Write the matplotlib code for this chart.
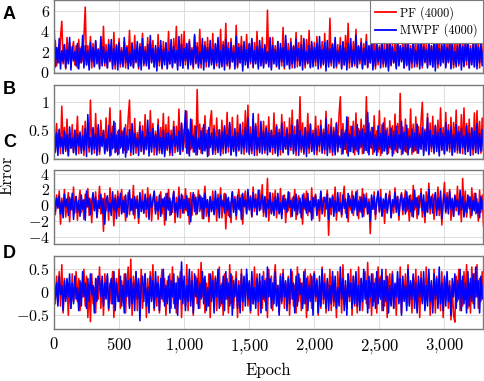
import numpy as np
import matplotlib.pyplot as plt
from matplotlib.ticker import FuncFormatter, FixedLocator

# error per epoch, every 10 epochs (0 .. 3300)
epoch_step = 10

a_pf = [1.2, 3.1, 0.6, 2.4, 0.9, 3.4, 5.0, 0.8, 2.7, 0.3,
        3.4, 1.0, 2.9, 0.5, 2.2, 3.0, 0.7, 2.6, 0.4, 3.2,
        0.9, 2.5, 1.1, 3.5, 6.4, 0.7, 2.6, 0.9, 3.5, 0.4,
        2.8, 0.6, 3.0, 1.2, 2.3, 0.5, 3.3, 0.8, 4.5, 0.6,
        2.7, 0.4, 3.2, 1.0, 2.5, 0.6, 3.9, 0.3, 2.7, 1.1,
        3.3, 0.5, 2.4, 0.8, 3.0, 0.4, 2.6, 1.0, 4.1, 0.7,
        2.9, 0.5, 3.6, 0.9, 2.4, 0.3, 2.8, 1.2, 3.8, 0.6,
        2.5, 0.8, 3.4, 0.4, 2.9, 1.0, 3.1, 0.5, 2.3, 0.9,
        3.7, 0.6, 2.6, 0.3, 3.0, 1.1, 2.8, 0.5, 4.0, 0.8,
        2.7, 0.4, 3.3, 0.9, 4.5, 0.6, 2.5, 1.0, 3.7, 0.4,
        4.0, 0.7, 2.8, 0.5, 3.2, 0.9, 2.4, 0.3, 3.5, 0.8,
        2.9, 0.6, 4.2, 0.4, 2.6, 1.1, 3.0, 0.5, 3.4, 0.7,
        2.5, 0.9, 3.8, 0.4, 2.7, 0.6, 3.1, 1.0, 4.2, 0.5,
        3.0, 0.8, 4.8, 0.6, 2.9, 0.3, 3.3, 1.0, 2.6, 0.7,
        4.6, 0.4, 2.8, 0.9, 3.5, 0.5, 2.4, 1.1, 3.7, 0.6,
        2.7, 0.8, 3.2, 0.4, 2.9, 1.0, 4.0, 0.5, 2.6, 0.9,
        3.4, 0.6, 2.5, 0.8, 6.1, 0.7, 2.9, 0.4, 3.4, 1.0,
        2.6, 0.5, 3.0, 0.9, 2.4, 0.6, 4.4, 0.3, 3.1, 1.1,
        2.8, 0.6, 3.3, 0.4, 2.6, 0.9, 3.9, 0.5, 2.9, 0.7,
        3.6, 1.0, 2.5, 0.4, 3.2, 0.8, 4.1, 0.5, 2.7, 0.9,
        2.9, 0.6, 3.5, 1.0, 2.6, 0.4, 3.0, 0.7, 3.8, 0.5,
        2.4, 0.9, 5.3, 0.6, 2.8, 1.1, 3.1, 0.4, 2.7, 0.8,
        3.4, 0.5, 2.9, 0.7, 3.6, 1.0, 4.8, 0.4, 2.5, 0.9,
        3.0, 0.6, 4.2, 0.5, 2.6, 0.8, 3.3, 0.4, 2.8, 1.1,
        3.7, 0.4, 2.5, 0.9, 2.9, 0.6, 4.0, 0.3, 3.2, 0.7,
        2.6, 1.0, 3.5, 0.5, 2.8, 0.8, 3.1, 0.4, 4.1, 0.6,
        2.7, 0.9, 3.0, 0.5, 3.6, 0.7, 2.4, 1.1, 3.3, 0.4,
        2.9, 0.6, 3.9, 0.8, 2.6, 0.4, 3.2, 1.0, 2.8, 0.5,
        3.5, 0.7, 2.5, 0.4, 3.8, 0.9, 2.7, 0.6, 3.1, 1.0,
        2.6, 0.5, 3.4, 0.8, 2.9, 0.4, 4.0, 0.7, 2.5, 1.1,
        3.2, 0.6, 2.8, 0.9, 3.7, 0.5, 2.6, 0.4, 3.0, 0.8,
        3.5, 0.6, 2.7, 1.0, 3.3, 0.5, 2.9, 0.7, 3.8, 0.4,
        2.6, 0.9, 3.1, 0.5, 2.8, 0.7, 3.4, 0.4, 2.7, 1.0,
        3.0]
a_mwpf = [4.8, 0.5, 2.4, 0.9, 3.3, 0.3, 2.1, 1.0, 2.7, 0.4,
          2.2, 0.8, 3.4, 0.2, 2.5, 1.1, 2.0, 0.6, 2.8, 0.3,
          2.3, 0.9, 3.6, 0.4, 2.6, 0.7, 2.1, 0.2, 2.9, 1.0,
          2.4, 0.5, 3.1, 0.8, 2.2, 0.3, 3.5, 0.6, 2.5, 0.9,
          2.0, 0.4, 2.7, 1.1, 3.2, 0.3, 2.3, 0.7, 2.6, 0.2,
          2.9, 0.8, 2.1, 0.5, 3.4, 0.9, 2.4, 0.3, 2.0, 0.6,
          2.8, 0.4, 2.2, 1.0, 3.0, 0.5, 2.5, 0.2, 3.3, 0.8,
          2.1, 0.6, 2.7, 0.3, 3.6, 0.9, 2.3, 0.5, 2.6, 0.1,
          2.4, 1.0, 3.1, 0.4, 2.2, 0.7, 2.9, 0.3, 2.0, 0.8,
          3.2, 0.5, 2.5, 0.9, 2.1, 0.2, 3.5, 0.6, 2.7, 0.4,
          2.3, 1.1, 2.8, 0.3, 3.0, 0.7, 2.2, 0.5, 3.7, 0.9,
          2.5, 0.4, 2.0, 0.8, 3.3, 0.2, 2.6, 1.0, 2.4, 0.5,
          3.1, 0.7, 2.2, 0.3, 2.8, 0.9, 3.4, 0.4, 2.1, 0.6,
          2.7, 0.2, 3.2, 0.8, 2.3, 0.5, 2.9, 1.0, 2.0, 0.3,
          3.5, 0.6, 2.4, 0.9, 2.6, 0.1, 3.0, 0.7, 2.2, 0.4,
          2.8, 1.0, 3.3, 0.5, 2.1, 0.8, 2.5, 0.3, 3.1, 0.6,
          2.3, 0.4, 2.7, 0.9, 2.0, 0.5, 3.4, 0.2, 2.6, 0.8,
          2.2, 0.6, 3.0, 0.3, 2.8, 1.0, 2.4, 0.5, 3.6, 0.7,
          2.1, 0.3, 2.9, 0.8, 2.5, 0.4, 3.2, 1.1, 2.3, 0.6,
          2.7, 0.2, 3.3, 0.7, 2.0, 0.9, 2.6, 0.4, 3.0, 0.5,
          2.4, 1.0, 2.8, 0.3, 3.5, 0.6, 2.2, 0.8, 2.9, 0.1,
          3.1, 0.5, 2.3, 0.9, 2.7, 0.4, 3.4, 0.6, 2.1, 1.0,
          2.6, 0.3, 3.0, 0.7, 2.4, 0.2, 2.8, 0.9, 3.3, 0.5,
          2.2, 0.8, 3.6, 0.4, 2.5, 1.1, 2.9, 0.3, 2.3, 0.7,
          3.0, 0.5, 2.6, 0.9, 3.2, 0.2, 2.1, 0.6, 2.7, 1.0,
          2.4, 0.4, 3.4, 0.8, 2.2, 0.5, 2.8, 0.1, 3.1, 0.7,
          2.5, 0.9, 2.0, 0.3, 3.3, 0.6, 2.6, 1.0, 2.4, 0.4,
          3.0, 0.7, 2.7, 0.2, 2.3, 0.9, 3.5, 0.5, 2.1, 0.8,
          2.8, 0.3, 3.2, 0.6, 2.5, 1.0, 2.2, 0.4, 3.0, 0.7,
          2.6, 0.5, 2.9, 0.1, 3.4, 0.8, 2.3, 0.6, 2.7, 0.9,
          3.1, 0.4, 2.4, 1.0, 2.8, 0.3, 3.3, 0.7, 2.0, 0.5,
          2.6, 0.8, 3.0, 0.2, 2.5, 0.6, 2.9, 1.1, 3.2, 0.4,
          2.3, 0.7, 2.7, 0.5, 3.5, 0.3, 2.4, 0.9, 2.8, 0.6,
          2.2]

b_pf = [0.35, 0.10, 0.62, 0.15, 0.48, 0.08, 0.93, 0.20, 0.55, 0.12,
        0.70, 0.06, 0.45, 0.18, 0.60, 0.10, 0.50, 0.25, 0.75, 0.08,
        0.42, 0.14, 0.58, 0.05, 0.66, 0.22, 0.47, 0.11, 1.04, 0.16,
        0.52, 0.09, 0.80, 0.13, 0.54, 0.07, 0.68, 0.24, 0.50, 0.10,
        0.72, 0.15, 0.44, 0.90, 0.06, 0.57, 0.19, 0.63, 0.12, 0.48,
        0.08, 0.85, 0.21, 0.49, 0.14, 0.60, 0.10, 0.72, 1.04, 0.05,
        0.53, 0.17, 0.71, 0.09, 0.46, 0.23, 0.65, 0.12, 0.58, 0.07,
        0.78, 0.15, 0.52, 0.11, 0.85, 0.20, 0.62, 0.06, 0.48, 0.13,
        0.70, 0.09, 0.55, 0.18, 0.80, 0.08, 0.60, 0.14, 0.74, 0.05,
        0.50, 0.22, 0.66, 0.10, 0.57, 0.16, 0.88, 0.07, 0.63, 0.12,
        0.52, 0.19, 0.84, 0.08, 0.47, 0.15, 0.69, 0.11, 0.58, 0.06,
        1.23, 0.21, 0.61, 0.09, 0.54, 0.14, 0.76, 0.18, 0.50, 0.05,
        0.65, 0.85, 0.10, 0.59, 0.07, 0.72, 0.16, 0.50, 0.12, 0.68,
        0.08, 0.55, 0.20, 0.82, 0.11, 0.60, 0.06, 0.73, 0.15, 0.48,
        0.09, 0.77, 0.13, 0.52, 0.19, 0.64, 0.07, 0.85, 0.14, 0.95,
        0.10, 0.56, 0.08, 0.70, 0.17, 0.62, 0.05, 0.79, 0.12, 0.53,
        0.21, 0.66, 0.09, 0.58, 0.15, 0.74, 0.11, 0.49, 0.07, 0.81,
        0.13, 0.60, 0.18, 0.52, 0.06, 0.78, 0.10, 0.65, 0.16, 0.55,
        0.08, 0.72, 0.14, 0.86, 0.12, 0.57, 0.05, 0.69, 0.20, 1.10,
        0.11, 0.63, 0.07, 0.54, 0.17, 0.80, 0.09, 0.61, 0.13, 0.50,
        0.19, 0.75, 0.06, 0.58, 0.12, 0.68, 0.15, 0.52, 0.08, 0.84,
        0.14, 0.60, 0.10, 0.71, 0.05, 0.55, 0.18, 0.64, 0.11, 0.77,
        1.10, 0.07, 0.62, 0.16, 0.50, 0.09, 0.73, 0.13, 0.57, 0.20,
        0.66, 0.06, 0.81, 0.12, 0.53, 0.17, 0.70, 0.08, 0.59, 0.14,
        1.10, 0.10, 0.63, 0.19, 0.55, 0.07, 0.76, 0.15, 0.49, 0.11,
        0.85, 0.05, 0.60, 0.13, 0.72, 0.18, 0.54, 0.09, 0.67, 0.16,
        0.58, 0.08, 0.79, 0.12, 0.62, 0.20, 1.16, 0.06, 0.56, 0.14,
        0.70, 0.10, 0.53, 0.17, 0.88, 0.07, 0.61, 0.13, 0.74, 0.09,
        0.57, 0.19, 0.66, 1.00, 0.11, 0.52, 0.15, 0.80, 0.06, 0.63,
        0.12, 0.75, 0.08, 0.59, 0.18, 0.68, 0.10, 0.90, 0.14, 0.55,
        0.07, 0.82, 0.16, 0.60, 0.11, 0.73, 0.05, 0.64, 0.20, 0.86,
        0.09, 0.57, 0.13, 0.78, 0.08, 0.90, 0.15, 0.62, 0.12, 0.70,
        0.17, 0.54, 0.06, 0.81, 0.10, 0.85, 0.14, 0.66, 0.09, 0.72,
        0.15]
b_mwpf = [0.70, 0.12, 0.45, 0.05, 0.52, 0.20, 0.38, 0.08, 0.48, 0.15,
          0.42, 0.04, 0.56, 0.18, 0.36, 0.10, 0.50, 0.06, 0.44, 0.22,
          0.47, 0.09, 0.40, 0.14, 0.53, 0.03, 0.78, 0.19, 0.37, 0.07,
          0.55, 0.16, 0.43, 0.05, 0.60, 0.12, 0.39, 0.21, 0.49, 0.08,
          0.35, 0.13, 0.58, 0.04, 0.45, 0.17, 0.66, 0.10, 0.41, 0.06,
          0.51, 0.18, 0.47, 0.09, 0.54, 0.02, 0.40, 0.15, 0.51, 0.11,
          0.62, 0.07, 0.44, 0.20, 0.36, 0.05, 0.57, 0.13, 0.48, 0.09,
          0.38, 0.16, 0.68, 0.04, 0.46, 0.11, 0.53, 0.19, 0.42, 0.06,
          0.59, 0.14, 0.37, 0.08, 0.50, 0.03, 0.44, 0.17, 0.45, 0.10,
          0.41, 0.05, 0.56, 0.21, 0.39, 0.12, 0.48, 0.07, 0.62, 0.15,
          0.44, 0.85, 0.09, 0.52, 0.04, 0.70, 0.18, 0.40, 0.11, 0.57,
          0.06, 0.36, 0.16, 0.49, 0.08, 0.60, 0.13, 0.43, 0.03, 0.55,
          0.19, 0.45, 0.07, 0.52, 0.14, 0.38, 0.10, 0.51, 0.05, 0.47,
          0.17, 0.58, 0.09, 0.42, 0.20, 0.64, 0.06, 0.39, 0.12, 0.53,
          0.04, 0.46, 0.15, 0.61, 0.08, 0.40, 0.18, 0.55, 0.11, 0.72,
          0.07, 0.43, 0.13, 0.80, 0.05, 0.58, 0.16, 0.37, 0.10, 0.66,
          0.08, 0.48, 0.14, 0.54, 0.06, 0.45, 0.12, 0.50, 0.19, 0.41,
          0.09, 0.57, 0.04, 0.46, 0.15, 0.63, 0.11, 0.38, 0.17, 0.52,
          0.06, 0.44, 0.20, 0.59, 0.08, 0.42, 0.13, 0.68, 0.05, 0.49,
          0.16, 0.40, 0.10, 0.55, 0.03, 0.47, 0.18, 0.61, 0.12, 0.44,
          0.07, 0.53, 0.14, 0.39, 0.21, 0.58, 0.09, 0.46, 0.15, 0.70,
          0.05, 0.42, 0.17, 0.56, 0.11, 0.48, 0.06, 0.62, 0.13, 0.40,
          0.19, 0.51, 0.08, 0.45, 0.16, 0.74, 0.04, 0.43, 0.12, 0.57,
          0.10, 0.38, 0.15, 0.60, 0.07, 0.49, 0.20, 0.52, 0.09, 0.45,
          0.14, 0.82, 0.06, 0.47, 0.18, 0.55, 0.11, 0.41, 0.05, 0.58,
          0.16, 0.44, 0.09, 0.63, 0.13, 0.50, 0.07, 0.39, 0.19, 0.54,
          0.04, 0.48, 0.15, 0.57, 0.10, 0.42, 0.17, 0.66, 0.08, 0.46,
          0.12, 0.59, 0.06, 0.40, 0.20, 0.52, 0.11, 0.45, 0.14, 0.61,
          0.09, 0.43, 0.16, 0.55, 0.05, 0.48, 0.13, 0.72, 0.07, 0.50,
          0.18, 0.41, 0.10, 0.58, 0.12, 0.46, 0.04, 0.53, 0.15, 0.44,
          0.08, 0.64, 0.13, 0.49, 0.17, 0.56, 0.06, 0.42, 0.11, 0.60,
          0.14, 0.47, 0.09, 0.53, 0.19, 0.40, 0.07, 0.58, 0.12, 0.45,
          0.05, 0.54, 0.16, 0.48, 0.10, 0.62, 0.08, 0.44, 0.13, 0.51,
          0.12]

c_pf = [0.5, -1.2, 1.3, -0.4, 1.8, -2.4, 0.9, -0.8, 2.0, -1.5,
        0.3, 1.6, -2.1, 0.7, -0.6, 2.3, -1.0, 1.1, -1.9, 0.4,
        1.9, -0.9, 0.6, -1.8, 1.4, -0.3, 2.1, -1.3, 0.8, -2.2,
        1.2, -0.5, 1.7, -1.6, 0.2, 2.4, -1.1, 0.9, -3.3, 1.5,
        -0.7, 1.0, -1.9, 2.2, -0.4, 0.6, -2.6, 1.3, -0.8, 1.8,
        -1.4, 0.5, 2.0, -0.9, 1.1, -2.0, 0.3, 1.6, -1.2, 0.8,
        -0.6, 2.5, -1.7, 0.4, 1.2, -2.3, 0.7, -0.2, 1.9, -1.0,
        0.9, -1.5, 2.2, -0.5, 1.4, -2.0, 0.6, 1.7, -0.8, 1.1,
        -1.8, 0.3, 1.7, -1.1, 0.8, -2.5, 1.5, -0.4, 2.0, -1.3,
        0.5, -0.9, 1.8, -2.2, 1.0, -0.6, 2.3, -1.6, 0.4, 1.2,
        -1.0, 2.1, -0.7, 0.9, -2.4, 1.6, -1.3, 0.6, 1.3, -1.2,
        0.2, 1.9, -0.8, 1.1, -1.7, 0.7, 2.4, -1.4, 0.5, -2.1,
        1.0, -0.5, 1.8, -1.1, 0.8, -2.0, 1.4, -0.3, 2.2, -1.6,
        0.6, 1.5, -3.0, 0.8, -1.3, 0.4, -2.2, 1.7, -0.6, 1.1,
        -1.8, 0.9, 2.0, -0.7, 1.3, -2.4, 0.5, 1.8, -1.0, 1.6,
        -0.4, 1.2, -1.5, 2.3, -0.8, 1.4, -1.2, 0.7, 1.9, -0.5,
        2.6, -1.4, 1.0, -0.6, 3.4, -2.0, 0.8, -1.1, 1.5, -0.3,
        1.9, -1.6, 0.5, -0.9, 2.1, -1.2, 0.7, 1.3, -2.2, 0.4,
        -0.7, 1.6, -1.5, 0.9, -0.3, 2.0, -1.8, 0.6, 1.2, -1.0,
        0.3, -2.4, 1.5, -0.6, 1.8, -1.3, 0.5, -0.9, 2.2, -1.7,
        0.8, 1.4, -1.1, 0.2, -2.0, 1.7, -0.5, 1.0, -1.4, 0.6,
        1.9, -3.8, 0.7, -1.2, 1.3, -0.4, 2.3, -1.9, 0.5, -0.8,
        1.6, -1.5, 0.9, 2.4, -1.0, 0.3, -2.1, 1.2, -0.6, 1.8,
        -1.3, 0.7, -0.2, 1.9, -1.7, 1.1, -0.9, 2.1, -1.4, 0.4,
        1.5, -1.1, 0.8, -3.6, 1.0, -0.5, 1.7, -1.8, 0.6, 1.2,
        -0.9, 2.0, -1.3, 0.5, -2.3, 1.4, -0.7, 0.9, 1.8, -1.5,
        0.3, -1.0, 2.2, -0.4, 1.1, -1.9, 0.7, 1.6, -1.2, 0.5,
        1.9, -0.8, 0.4, -2.0, 1.3, -1.4, 2.5, -0.6, 0.9, -1.7,
        1.2, -0.3, 2.1, -1.5, 0.6, -2.2, 1.7, -0.9, 2.8, -1.1,
        0.5, 1.4, -1.8, 0.8, -0.5, 2.3, -1.3, 1.0, -2.5, 0.7,
        2.9, -1.0, 1.6, -0.4, 2.0, -1.9, 0.9, -1.4, 1.3, -0.7,
        2.4, -1.2, 0.6, -2.1, 3.4, -0.8, 1.8, -1.5, 0.4, 1.1,
        -1.6, 2.2, -0.6, 1.5, -1.1, 0.8, -2.0, 1.9, -0.9, 1.3,
        -2.6]
c_mwpf = [1.6, -0.8, 0.9, -0.3, 1.2, -1.1, 0.5, -1.6, 1.4, -0.2,
          0.8, -1.3, 1.0, -0.6, 1.5, -1.8, 0.3, 1.1, -0.9, 0.6,
          -1.4, 1.3, -0.5, 0.7, -1.9, 1.8, -0.2, 0.9, -1.2, 0.4,
          1.6, -0.7, 1.0, -1.5, 0.6, -0.4, 1.4, -1.0, 0.8, -2.4,
          0.5, 1.2, -0.8, 0.3, -1.3, 1.7, -0.6, 0.9, -1.7, 1.1,
          -0.3, 1.5, -1.1, 0.6, -0.9, 1.3, -1.5, 0.4, 1.9, -0.7,
          0.8, -1.2, 1.1, -0.4, 0.7, -1.6, 1.6, -0.8, 0.5, -1.0,
          1.4, -0.5, 0.9, -1.8, 1.2, -0.3, 0.6, 1.8, -1.1, 0.4,
          -0.7, 1.3, -1.4, 0.8, -0.2, 1.0, -1.9, 1.5, -0.6, 0.9,
          -1.2, 0.5, 1.7, -0.9, 0.3, -1.5, 1.1, -0.4, 1.4, -1.0,
          0.7, -0.6, 1.2, -1.3, 0.8, -2.1, 0.4, 1.6, -0.8, 1.0,
          -1.1, 0.6, 1.3, -0.5, 0.9, -1.7, 1.5, -0.3, 0.7, -1.4,
          1.1, -0.8, 0.5, -1.2, 1.8, -0.4, 0.9, -1.6, 1.3, -0.2,
          0.6, -1.0, 1.4, -0.7, 1.0, -1.5, 0.3, 1.7, -0.9, 0.8,
          -1.3, 1.2, -0.5, 0.9, -1.8, 1.5, -0.2, 0.7, -1.1, 2.0,
          -0.6, 1.0, -1.4, 1.6, -0.3, 0.8, -1.2, 1.9, -0.7, 0.5,
          1.3, -0.9, 1.1, -1.5, 0.7, -0.4, 1.6, -1.0, 0.4, -1.3,
          1.0, -0.6, 1.5, -1.1, 0.3, -1.7, 1.2, -0.5, 0.8, -0.9,
          1.7, -0.3, 0.6, -1.4, 1.1, -0.7, 1.4, -1.2, 0.2, 0.9,
          -1.6, 1.3, -0.4, 0.8, -1.0, 1.5, -0.8, 0.5, -1.9, 1.0,
          -0.2, 1.2, -1.3, 0.7, -0.6, 1.8, -1.1, 0.4, 1.0, -0.5,
          1.4, -1.8, 0.9, -0.3, 1.1, -1.4, 0.6, -0.9, 1.6, -0.7,
          0.3, -1.2, 1.3, -0.4, 0.8, -1.6, 1.5, -0.2, 0.7, -1.0,
          1.2, -0.6, 1.7, -1.3, 0.5, -0.8, 1.0, -1.5, 1.4, -0.3,
          0.9, -1.1, 0.4, -2.0, 1.3, -0.5, 1.1, -1.2, 0.6, 1.8,
          -0.7, 1.0, -1.4, 0.8, -0.4, 1.5, -1.0, 0.3, 1.2, -1.6,
          0.7, -0.2, 1.6, -0.9, 1.1, -1.3, 0.5, 1.4, -0.6, 0.9,
          -1.1, 1.7, -0.5, 1.2, -0.8, 0.6, -1.5, 1.9, -0.3, 1.0,
          -1.2, 0.8, 1.5, -0.7, 1.3, -1.4, 0.4, -0.9, 2.0, -0.4,
          1.1, -1.0, 0.6, 1.6, -1.3, 0.9, -0.6, 1.8, -1.7, 0.3,
          1.4, -0.8, 1.0, -1.1, 1.7, -0.5, 0.8, -1.4, 1.2, -0.2,
          0.7, -1.2, 1.9, -0.6, 1.1, -1.5, 0.5, -0.9, 1.3, -0.4,
          1.0, -1.3, 0.6, -0.7, 1.5, -1.0, 0.3, -1.6, 1.1, -0.5,
          0.8]

d_pf = [0.10, -0.25, 0.35, -0.10, 0.45, -0.30, 0.60, -0.45, 0.30, -0.15,
        0.25, -0.50, 0.15, -0.35, 0.40, -0.20, 0.05, 0.45, -0.20, 0.30,
        -0.40, 0.20, -0.10, 0.50, -0.30, 0.35, -0.55, 0.15, -0.64, 0.40,
        -0.25, 0.10, -0.45, 0.30, -0.15, 0.55, -0.35, 0.25, -0.50, 0.40,
        -0.05, 0.35, -0.40, 0.20, -0.25, 0.45, -0.55, 0.10, 0.30, -0.20,
        0.50, -0.35, 0.25, -0.15, 0.40, -0.45, 0.15, 0.55, -0.30, 0.72,
        -0.50, 0.35, -0.10, 0.45, -0.40, 0.25, -0.20, 0.50, -0.35, 0.10,
        0.40, -0.55, 0.30, -0.25, 0.45, -0.15, 0.60, -0.40, 0.20, -0.30,
        0.35, -0.45, 0.15, 0.50, -0.20, 0.30, -0.50, 0.25, -0.10, 0.40,
        -0.35, 0.55, -0.25, 0.20, -0.45, 0.35, -0.15, 0.45, -0.55, 0.25,
        0.10, -0.30, 0.60, -0.40, 0.30, -0.20, 0.45, -0.50, 0.15, 0.35,
        -0.25, 0.50, -0.35, 0.65, -0.10, 0.30, -0.45, 0.20, -0.30, 0.40,
        -0.55, 0.25, 0.45, -0.20, 0.35, -0.40, 0.15, 0.55, -0.30, 0.20,
        -0.50, 0.40, -0.15, 0.30, -0.45, 0.60, -0.25, 0.35, -0.35, 0.10,
        0.45, -0.55, 0.25, -0.20, 0.50, -0.40, 0.30, -0.10, 0.40, -0.30,
        0.20, -0.45, 0.35, -0.25, 0.55, -0.15, 0.40, -0.50, 0.25, 0.10,
        -0.35, 0.45, -0.20, 0.30, -0.55, 0.50, -0.10, 0.35, -0.40, 0.25,
        0.60, -0.30, 0.15, -0.45, 0.40, -0.25, 0.50, -0.35, 0.20, -0.15,
        0.35, -0.50, 0.25, 0.45, -0.30, 0.15, -0.45, 0.55, -0.20, 0.30,
        -0.40, 0.20, -0.25, 0.50, -0.55, 0.35, -0.10, 0.40, -0.35, 0.25,
        0.45, -0.20, 0.30, -0.50, 0.15, -0.35, 0.55, -0.25, 0.40, -0.45,
        0.25, -0.15, 0.50, -0.40, 0.35, -0.30, 0.20, -0.55, 0.45, -0.10,
        0.30, -0.45, 0.60, -0.25, 0.15, -0.35, 0.40, -0.20, 0.50, -0.50,
        0.35, -0.30, 0.25, -0.45, 0.55, -0.15, 0.30, -0.40, 0.20, 0.45,
        -0.25, 0.65, -0.35, 0.15, -0.50, 0.40, -0.20, 0.30, -0.45, 0.55,
        -0.10, 0.35, -0.40, 0.25, -0.30, 0.50, -0.55, 0.20, 0.40, -0.25,
        0.45, -0.35, 0.15, -0.50, 0.30, -0.20, 0.55, -0.45, 0.25, -0.15,
        0.40, -0.30, 0.60, -0.25, 0.20, -0.45, 0.35, -0.10, 0.50, -0.40,
        0.25, -0.55, 0.45, -0.20, 0.30, -0.35, 0.55, -0.15, 0.40, -0.50,
        0.15, -0.30, 0.50, -0.45, 0.35, -0.25, 0.20, -0.40, 0.45, -0.55,
        0.30, -0.15, 0.40, -0.35, 0.25, -0.60, 0.10, -0.50, -0.65, 0.35,
        -0.20, 0.50, -0.40, 0.25, -0.30, 0.45, -0.15, 0.60, -0.35, 0.20,
        -0.45, 0.55, -0.25, 0.40, -0.10, 0.60, -0.35, 0.30, -0.20, 0.45,
        -0.15]
d_mwpf = [0.30, -0.15, 0.20, -0.30, 0.35, -0.05, 0.15, -0.40, 0.25, -0.20,
          0.30, -0.10, 0.40, -0.35, 0.20, -0.25, 0.35, -0.15, 0.10, -0.40,
          0.25, -0.30, 0.45, -0.10, 0.20, -0.35, 0.30, -0.20, 0.40, -0.05,
          0.15, -0.45, 0.30, -0.20, 0.35, 0.25, -0.10, 0.35, -0.30, 0.20,
          -0.15, 0.40, -0.35, 0.10, 0.30, -0.25, 0.45, -0.40, 0.20, -0.10,
          -0.20, 0.35, -0.30, 0.15, -0.45, 0.40, -0.10, 0.25, -0.35, 0.30,
          -0.25, 0.20, -0.40, 0.45, -0.15, 0.30, -0.62, 0.15, 0.35, -0.20,
          0.40, -0.30, 0.10, -0.45, 0.35, -0.20, 0.25, -0.35, 0.45, -0.10,
          0.20, -0.40, 0.30, -0.15, 0.50, -0.30, 0.15, -0.25, 0.35, -0.45,
          0.25, -0.10, 0.40, -0.35, 0.20, -0.50, 0.30, -0.15, 0.66, -0.25,
          0.35, -0.40, 0.15, -0.20, 0.50, -0.30, 0.25, -0.45, 0.40, -0.10,
          0.30, -0.35, 0.20, -0.15, 0.45, -0.25, 0.35, -0.40, 0.10, -0.30,
          0.40, -0.20, 0.25, -0.45, 0.30, -0.10, 0.50, -0.35, 0.15, -0.25,
          0.35, -0.40, 0.45, -0.15, 0.20, -0.30, 0.40, -0.50, 0.25, -0.10,
          0.30, -0.35, 0.15, -0.45, 0.40, -0.20, 0.35, -0.30, 0.50, -0.15,
          0.25, -0.40, 0.45, -0.25, 0.10, -0.35, 0.30, -0.20, 0.40, -0.45,
          0.35, -0.15, 0.25, -0.40, 0.55, -0.10, 0.30, -0.35, 0.20, -0.25,
          0.45, -0.30, 0.15, -0.50, 0.35, -0.20, 0.40, -0.10, 0.25, -0.40,
          0.30, -0.25, 0.50, -0.15, 0.20, -0.45, 0.35, -0.30, 0.40, -0.05,
          0.20, -0.35, 0.45, -0.25, 0.30, -0.40, 0.15, -0.20, 0.35, -0.50,
          0.40, -0.10, 0.25, -0.45, 0.35, -0.30, 0.50, -0.15, 0.20, -0.35,
          0.30, -0.40, 0.15, -0.25, 0.45, -0.20, 0.35, -0.35, 0.10, -0.30,
          0.55, -0.15, 0.30, -0.40, 0.25, -0.50, 0.40, -0.10, 0.20, -0.35,
          0.35, -0.25, 0.45, -0.30, 0.15, -0.40, 0.30, -0.20, 0.50, -0.15,
          0.25, -0.45, 0.35, -0.10, 0.40, -0.30, 0.20, -0.35, 0.45, -0.25,
          0.30, -0.15, 0.50, -0.40, 0.25, -0.20, 0.35, -0.45, 0.15, -0.30,
          0.40, -0.35, 0.20, -0.10, 0.45, -0.25, 0.30, -0.50, 0.35, -0.20,
          0.15, -0.40, 0.50, -0.30, 0.25, -0.15, 0.40, -0.35, 0.20, -0.45,
          0.35, -0.10, 0.30, -0.25, 0.45, -0.40, 0.15, -0.30, 0.50, -0.20,
          0.25, -0.45, 0.40, -0.15, 0.30, -0.35, 0.55, -0.25, 0.20, -0.40,
          0.35, -0.30, 0.45, -0.20, 0.15, -0.50, 0.30, -0.10, 0.40, -0.35,
          0.25, -0.15, 0.50, -0.40, 0.35, -0.25, 0.20, -0.45, 0.45, -0.30,
          0.30, -0.20, 0.40, -0.35, 0.55, -0.10, 0.25, -0.45, 0.35, -0.15,
          0.20]

panel_names = ['A', 'B', 'C', 'D']
panel_pf = [a_pf, b_pf, c_pf, d_pf]
panel_mwpf = [a_mwpf, b_mwpf, c_mwpf, d_mwpf]
panel_yticks = [[0, 2, 4, 6], [0, 0.5, 1], [-4, -2, 0, 2, 4], [-0.5, 0, 0.5]]
panel_ylims = [(-0.1, 7.05), (-0.005, 1.31), (-4.85, 4.4), (-0.8, 0.79)]
x_ticks = [0, 500, 1000, 1500, 2000, 2500, 3000]
x_max = 3300

plt.rcParams['font.family'] = 'cmr10'
plt.rcParams['mathtext.fontset'] = 'cm'
plt.rcParams['font.size'] = 12

W, H = 484, 381
fig = plt.figure(figsize=(W / 100, H / 100), dpi=100)

# panel boxes in pixels: (top, bottom)
boxes = [(0.5, 73), (85, 158.5), (170.5, 243.5), (256, 329)]
label_y = [14.5, 90, 143, 254]


def tick_fmt(v, pos):
    if abs(v - round(v)) < 1e-9:
        s = f'{int(round(v)):,}'.replace(',', '{,}')
    else:
        s = f'{v:g}'
    return f'${s}$'


axes = []
for i in range(4):
    top, bot = boxes[i]
    ax = fig.add_axes([54 / W, 1 - bot / H, (483.5 - 54) / W, (bot - top) / H])
    pf = np.array(panel_pf[i])
    mw = np.array(panel_mwpf[i])
    ax.plot(np.arange(len(pf)) * epoch_step, pf, color='#ff0000', lw=1.15, label='PF (4000)')
    ax.plot(np.arange(len(mw)) * epoch_step, mw, color='#0000ff', lw=1.15, label='MWPF (4000)')
    ax.set_xlim(0, x_max)
    ax.set_ylim(*panel_ylims[i])
    ax.xaxis.set_major_locator(FixedLocator(x_ticks))
    ax.yaxis.set_major_locator(FixedLocator(panel_yticks[i]))
    ax.yaxis.set_major_formatter(FuncFormatter(tick_fmt))
    ax.xaxis.set_major_formatter(FuncFormatter(tick_fmt))
    ax.grid(True, color='#d8d8d8', lw=0.6)
    ax.set_axisbelow(True)
    for sp in ax.spines.values():
        sp.set_color('#7a7a7a')
        sp.set_linewidth(1.0)
    ax.tick_params(length=0, labelsize=11.5, pad=3)
    if i < 3:
        ax.tick_params(labelbottom=False)
    else:
        ax.tick_params(axis='x', pad=5, labelsize=12)
    fig.text(3 / W, 1 - label_y[i] / H, panel_names[i], fontfamily='Liberation Sans',
             fontweight='bold', fontsize=13, ha='left', va='center')
    axes.append(ax)

leg = axes[0].legend(loc='upper right', bbox_to_anchor=(1, 1), borderaxespad=0,
                     fancybox=False, framealpha=1, edgecolor='#7a7a7a',
                     handlelength=1.65, handletextpad=0.4, labelspacing=0.3,
                     borderpad=0.45, fontsize=8.8)
leg.get_frame().set_linewidth(0.8)
for line in leg.get_lines():
    line.set_linewidth(1.3)

axes[3].set_xlabel('Epoch', fontsize=12, labelpad=5)
fig.text(7 / W, 1 - 175 / H, 'Error', rotation=90, ha='center', va='center', fontsize=12)

fig.savefig('out.png', dpi=100)
